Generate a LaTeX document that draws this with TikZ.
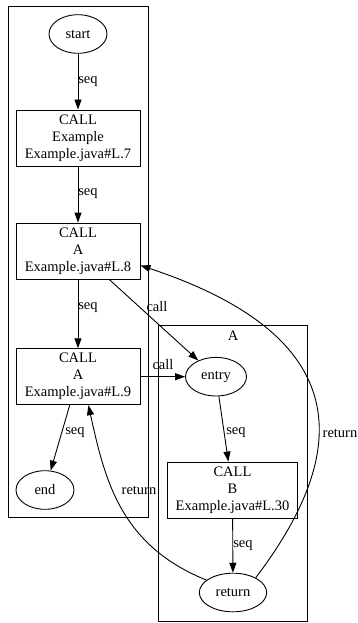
\documentclass[tikz,border=0pt]{standalone}
\usepackage{fontspec}
\setmainfont{Liberation Serif}
\usetikzlibrary{arrows.meta, shapes.geometric}

\begin{document}
\begin{tikzpicture}[x=1pt, y=-1pt, line width=0.9pt,
        font=\fontsize{14.5}{17}\selectfont,
        callbox/.style={draw, rectangle, align=center, minimum width=124pt, minimum height=56pt, inner sep=0pt},
        term/.style={draw, ellipse, minimum width=58pt, minimum height=38.6pt, inner sep=0pt},
        flow/.style={-{Triangle[length=10pt,width=7pt]}},
        lbl/.style={inner sep=0pt}]
        \useasboundingbox (0,0) rectangle (358,623);

        % clusters
        \draw (8,6) rectangle (148,517);
        \draw (158,325) rectangle (307.5,621);
        \node[lbl] (clA) at (233,336) {A};

        % main
        \node[term] (start) at (78,34) {start};
        \node[callbox] (ex) at (78,138) {CALL\\Example\\Example.java\#L.7};
        \node[callbox] (l8) at (78,251) {CALL\\A\\Example.java\#L.8};
        \node[callbox] (l9) at (78,376.7) {CALL\\A\\Example.java\#L.9};
        \node[term] (end) at (45,490) {end};

        % A
        \node[term, minimum width=61pt] (entry) at (216,376.7) {entry};
        \node[callbox, minimum width=130pt] (cb) at (232.5,490) {CALL\\B\\Example.java\#L.30};
        \node[term, minimum width=67.4pt] (ret) at (233,592.5) {return};

        \draw[flow] (start) -- (ex);
        \draw[flow] (ex) -- (l8);
        \draw[flow] (l8) -- (l9);
        \draw[flow] (l9) -- (end);
        \draw[flow] (l8) -- (entry);
        \draw[flow] (l9) -- (entry);
        \draw[flow] (entry) -- (cb);
        \draw[flow] (cb) -- (ret);
        \draw[flow] (ret.33) .. controls (345,460) and (365,340) .. (l8.-13);
        \draw[flow] (ret.155) .. controls (120,545) and (105,480) .. (l9.-70);

        % edge labels
        \node[lbl] (s1) at (88,82) {seq};
        \node[lbl] (s2) at (88,194) {seq};
        \node[lbl] (s3) at (88,308) {seq};
        \node[lbl] (s4) at (75,433) {seq};
        \node[lbl] (s5) at (236,433) {seq};
        \node[lbl] (s6) at (243,546) {seq};
        \node[lbl] (c1) at (157,307) {call};
        \node[lbl] (c2) at (163,365) {call};
        \node[lbl] (r1) at (340,433) {return};
        \node[lbl] (r2) at (139,490) {return};
    \end{tikzpicture}
\end{document}
